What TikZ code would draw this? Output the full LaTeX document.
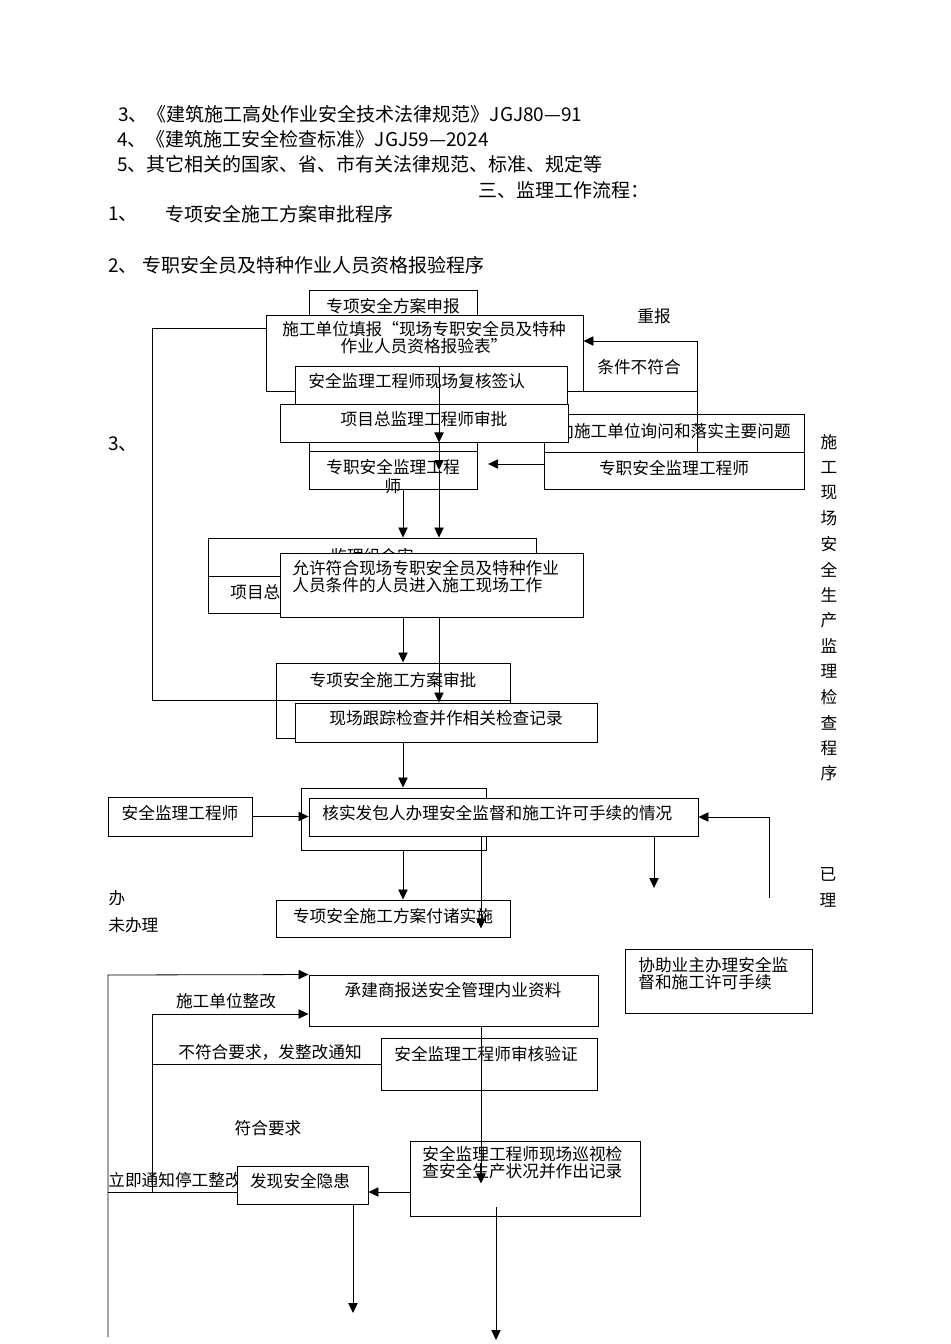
\documentclass[tikz,border=0pt]{standalone}
\usepackage{fontspec}
\newfontfamily\cjk{Noto Sans CJK SC}
\usetikzlibrary{arrows.meta,fit,calc}

\begin{document}
\begin{tikzpicture}[x=0.75pt,y=-0.75pt,line width=0.6pt,
    box/.style={draw,fill=white,inner sep=0pt,line width=0.7pt},
    txt/.style={inner sep=0pt,align=center,font=\cjk\fontsize{12.5pt}{12.75pt}\selectfont},
    lft/.style={txt,anchor=west,align=left},
    head/.style={inner sep=0pt,anchor=west,font=\cjk\fontsize{14.25pt}{17pt}\selectfont},
    arr/.style={-{Triangle[length=7.5pt,width=7pt]}}]
  \useasboundingbox (0,0) rectangle (950,1344);

  \node[head] (h3) at (118,114) {3、《建筑施工高处作业安全技术法律规范》JGJ80—91};
  \node[head] (h4) at (117,139) {4、《建筑施工安全检查标准》JGJ59—2024};
  \node[head] (h5) at (117,164) {5、其它相关的国家、省、市有关法律规范、标准、规定等};
  \node[head,anchor=east] (h0) at (650,190) {三、监理工作流程：};
  \node[head] (n1) at (108,214) {1、};
  \node[head] (t1) at (165,214) {专项安全施工方案审批程序};
  \node[head] (n2) at (108,265) {2、 专职安全员及特种作业人员资格报验程序};
  \node[head] (n3) at (108,444) {3、};

  \node[box,fit={(309,290)(477,451)}] (A) {};
  \node[txt] (At) at (393,306) {专项安全方案申报};
  \node[box,fit={(309,451)(477,489)}] (B) {};
  \node[txt] (Bt) at (393,477) {专职安全监理工程\\[1.5pt]师};
  \node[box,fit={(266,315)(583,391)}] (C) {};
  \node[txt] (Ct) at (424,338) {施工单位填报“现场专职安全员及特种\\作业人员资格报验表”};
  \node[box,fit={(295,366)(567,420)}] (D) {};
  \node[lft] (Dt) at (308,381) {安全监理工程师现场复核签认};
  \node[box,fit={(544,414)(804,452)}] (F) {};
  \node[txt] (Ft) at (674,431) {向施工单位询问和落实主要问题};
  \node[box,fit={(544,452)(804,489)}] (G) {};
  \node[txt] (Gt) at (674,468) {专职安全监理工程师};
  \node[box,fit={(280,404)(568,442)}] (E) {};
  \node[txt] (Et) at (424,419) {项目总监理工程师审批};
  \node[txt] (redoT) at (654,316) {重报};
  \node[txt] (failT) at (639,367) {条件不符合};

  \node[box,fit={(208,538)(536,576)}] (J1) {};
  \node[txt] (J1t) at (372,556) {监理组会审};
  \node[box,fit={(208,576)(536,613)}] (J2) {};
  \node[lft] (J2t) at (230,592) {项目总监理工程师审批};
  \node[box,fit={(280,553)(583,617)}] (K) {};
  \node[lft] (Kt) at (292,577) {允许符合现场专职安全员及特种作业\\人员条件的人员进入施工现场工作};

  \node[box,fit={(276,663)(510,738)}] (H) {};
  \node[txt] (Ht) at (393,680) {专项安全施工方案审批};
  \node[box,fit={(295,703)(597,742)}] (I) {};
  \node[txt] (It) at (446,718) {现场跟踪检查并作相关检查记录};

  \node[box,fit={(108,797)(252,836)}] (N) {};
  \node[txt] (Nt) at (180,813) {安全监理工程师};
  \node[box,fit={(301,788)(486,850)}] (L) {};
  \node[box,fit={(309,798)(698,836)}] (M) {};
  \node[lft] (Mt) at (322,813) {核实发包人办理安全监督和施工许可手续的情况};
  \node[box,fit={(276,900)(510,937)}] (O) {};
  \node[txt] (Ot) at (393,916) {专项安全施工方案付诸实施};
  \node[box,fit={(625,949)(812,1013)}] (P) {};
  \node[lft] (Pt) at (638,974) {协助业主办理安全监\\督和施工许可手续};
  \node[txt] (doT) at (117,898) {办};
  \node[lft] (notDoT) at (108,925) {未办理};
  \node[txt] (doneT1) at (828,874) {已};
  \node[txt] (doneT2) at (828,900) {理};
  \foreach \ch [count=\k from 0] in {施,工,现,场,安,全,生,产,监,理,检,查,程,序}
    \node[txt] (v\k) at (829,{442+25.5*\k}) {\ch};

  \node[box,fit={(309,975)(598,1026)}] (Q) {};
  \node[txt] (Qt) at (453,990) {承建商报送安全管理内业资料};
  \node[box,fit={(381,1038)(597,1090)}] (R) {};
  \node[lft] (Rt) at (394,1054) {安全监理工程师审核验证};
  \node[box,fit={(410,1141)(640,1216)}] (T) {};
  \node[lft] (Tt) at (422,1163) {安全监理工程师现场巡视检\\查安全生产状况并作出记录};
  \node[lft] (stopT) at (108,1180) {立即通知停工整改};
  \node[box,fit={(237,1166)(368,1204)}] (S) {};
  \node[txt] (St) at (300,1181) {发现安全隐患};
  \node[txt] (fixT) at (226,1001) {施工单位整改};
  \node[lft] (badT) at (178,1052) {不符合要求，发整改通知};
  \node[txt] (okT) at (268,1128) {符合要求};

  \coordinate (colL) at (403,0);
  \coordinate (colR) at (439,0);
  \coordinate (colM) at (481,0);
  \coordinate (loopTop) at (152,328);
  \coordinate (loopBot) at (152,700);
  \coordinate (redo) at (697,341);
  \coordinate (askY) at (0,464);
  \coordinate (backUp) at (769,898);
  \coordinate (toP) at (654,888);
  \coordinate (outerTop) at (108,975);
  \coordinate (outerBot) at (108,1337);
  \coordinate (fixTop) at (152,1014);
  \coordinate (stopY) at (0,1192);
  \coordinate (nextA) at (353,1313);
  \coordinate (nextB) at (496,1340);

  \draw (C.west |- loopTop) -- (loopTop) -- (loopBot) -- (loopBot -| H.east);
  \draw[arr] (G.north -| redo) -- (redo) -- (redo -| C.east);
  \draw (D.east |- C.south) -- (C.south -| redo);
  \draw[arr,shorten >=8pt] (G.west |- askY) -- (B.east |- askY);
  \draw[arr] (D.north -| colR) -- (E.south -| colR);
  \draw[arr] (E.south -| colR) -- (B.center -| colR);
  \draw[arr] (B.center -| colR) -- (J1.north -| colR);
  \draw[arr] (B.south -| colL) -- (J1.north -| colL);
  \draw[arr] (K.south -| colL) -- (H.north -| colL);
  \draw[arr] (K.south -| colR) -- (I.north -| colR);
  \draw[arr] (I.south -| colL) -- (L.north -| colL);
  \draw[arr] (N.east) -- (N.east -| M.west);
  \draw[arr] (backUp) -- (backUp |- M.east) -- (M.east);
  \draw[arr] (M.south -| toP) -- (toP);
  \draw[arr] (L.south -| colL) -- (O.north -| colL);
  \draw[arr,shorten >=6.75pt] (M.south -| colM) -- (O.south -| colM);
  \draw[arr] (outerBot) -- (outerTop) -- (Q.north west);
  \draw (S.west |- stopY) -- (outerBot |- stopY);
  \draw[arr] (fixTop |- stopY) -- (fixTop) -- (fixTop -| Q.west);
  \draw (R.west) -- (R.west -| fixTop);
  \draw[arr] (Q.south -| colM) -- ++(0,157);
  \draw[arr] (T.west |- stopY) -- (S.east |- stopY);
  \draw[arr] (S.south -| nextA) -- (nextA);
  \draw[arr] ([yshift=6.75pt]T.south -| nextB) -- (nextB);
\end{tikzpicture}
\end{document}
